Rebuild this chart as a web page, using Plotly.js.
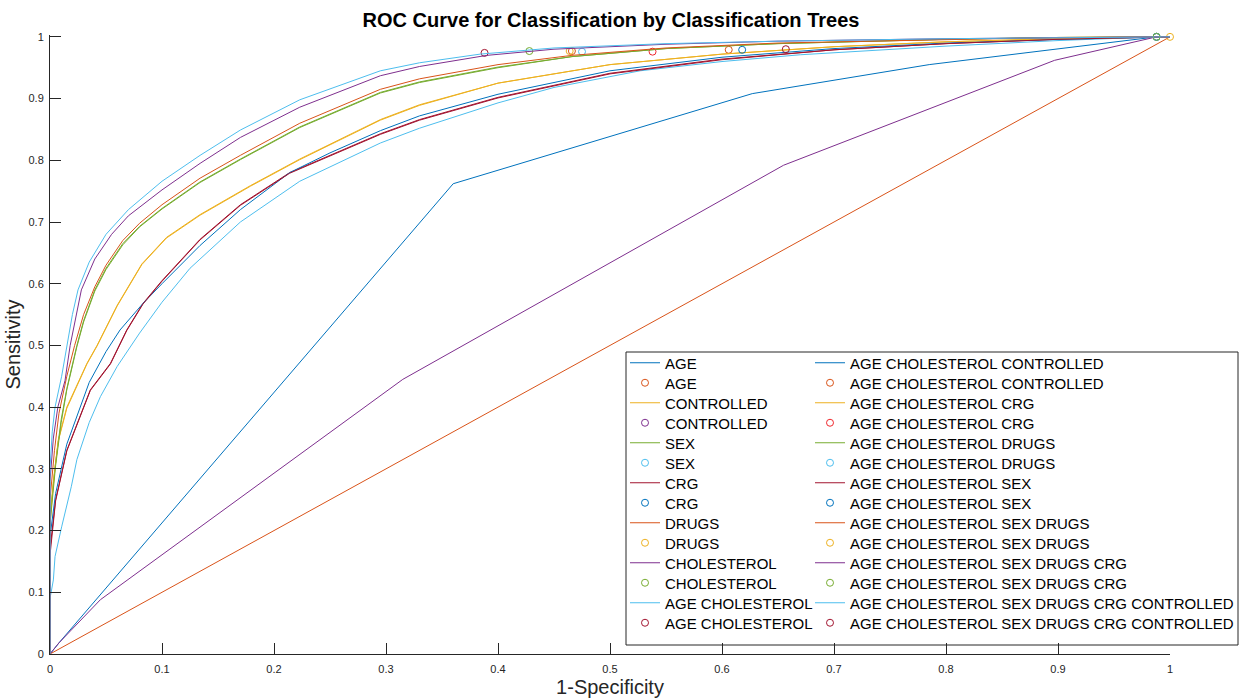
<!DOCTYPE html>
<html><head><meta charset="utf-8">
<script src="https://cdn.plot.ly/plotly-3.0.1.min.js"></script>
<style>html,body{margin:0;padding:0;background:#fff}#chart{width:1239px;height:698px}</style>
</head><body><div id="chart"></div>
<script>
// ---- model names (legend labels) ----
const modelNames = ['AGE','CONTROLLED','SEX','CRG','DRUGS','CHOLESTEROL','AGE CHOLESTEROL',
  'AGE CHOLESTEROL CONTROLLED','AGE CHOLESTEROL CRG','AGE CHOLESTEROL DRUGS','AGE CHOLESTEROL SEX',
  'AGE CHOLESTEROL SEX DRUGS','AGE CHOLESTEROL SEX DRUGS CRG','AGE CHOLESTEROL SEX DRUGS CRG CONTROLLED'];

// ---- ROC curves: false positive rate (1-specificity) and sensitivity ----
const fpr_AGE = [0,0.008,0.36,0.627,0.785,0.988,1];
const tpr_AGE = [0,0.018,0.762,0.908,0.955,1,1];

const fpr_CONTROLLED = [0,0,0.003,0.0074,0.015,0.025,0.033,0.042,0.06,0.082,0.104,0.134,0.179,0.223,0.295,0.33,0.4,0.5,0.6,0.7,0.8,0.9,0.988,1];
const tpr_CONTROLLED = [0,0.22,0.28,0.347,0.40,0.44,0.471,0.50,0.565,0.632,0.675,0.712,0.759,0.802,0.866,0.89,0.925,0.955,0.972,0.984,0.992,0.997,1,1];

const fpr_SEX = [0,0,0.005,0.01,0.015,0.024,0.03,0.04,0.05,0.065,0.08,0.1,0.134,0.17,0.223,0.295,0.33,0.4,0.466,0.55,0.65,0.8,0.9,0.988,1];
const tpr_SEX = [0,0.22,0.31,0.38,0.43,0.50,0.54,0.59,0.625,0.665,0.693,0.722,0.765,0.802,0.854,0.91,0.927,0.951,0.968,0.981,0.989,0.996,0.999,1,1];

const fpr_CRG = [0,0,0.005,0.015,0.036,0.054,0.0685,0.083,0.1,0.134,0.17,0.214,0.25,0.295,0.33,0.4,0.5,0.6,0.7,0.8,0.9,0.988,1];
const tpr_CRG = [0,0.17,0.25,0.33,0.428,0.471,0.525,0.568,0.605,0.672,0.728,0.78,0.808,0.843,0.866,0.902,0.941,0.964,0.979,0.989,0.996,1,1];

const fpr_DRUGS = [0,1];
const tpr_DRUGS = [0,1];

const fpr_CHOLESTEROL = [0,0.008,0.045,0.315,0.655,0.897,0.988,1];
const tpr_CHOLESTEROL = [0,0.018,0.088,0.445,0.792,0.962,1,1];

const fpr_AC = [0,0,0.003,0.0045,0.0104,0.019,0.024,0.035,0.045,0.06,0.08,0.1,0.125,0.17,0.223,0.295,0.33,0.4,0.45,0.527,0.6,0.67,0.8,0.9,0.988,1];
const tpr_AC = [0,0.09,0.12,0.158,0.206,0.271,0.315,0.375,0.417,0.466,0.52,0.57,0.625,0.70,0.766,0.828,0.852,0.893,0.918,0.945,0.96,0.971,0.985,0.994,1,1];

const fpr_ACC = [0,0,0.005,0.015,0.035,0.05,0.0625,0.083,0.1,0.134,0.17,0.214,0.25,0.295,0.33,0.4,0.5,0.6,0.7,0.8,0.9,0.988,1];
const tpr_ACC = [0,0.19,0.26,0.34,0.44,0.49,0.525,0.568,0.60,0.662,0.72,0.78,0.812,0.848,0.872,0.907,0.945,0.967,0.981,0.99,0.996,1,1];

const fpr_ACCRG = [0,0,0.003,0.0074,0.015,0.025,0.033,0.042,0.06,0.082,0.104,0.134,0.179,0.223,0.295,0.33,0.4,0.5,0.6,0.7,0.8,0.9,0.988,1];
const tpr_ACCRG = [0,0.21,0.278,0.345,0.398,0.439,0.47,0.499,0.564,0.631,0.674,0.711,0.758,0.801,0.865,0.889,0.925,0.955,0.972,0.984,0.992,0.997,1,1];

const fpr_ACD = [0,0,0.005,0.01,0.015,0.024,0.03,0.04,0.05,0.065,0.08,0.1,0.134,0.17,0.223,0.295,0.33,0.4,0.466,0.55,0.65,0.8,0.9,0.988,1];
const tpr_ACD = [0,0.21,0.305,0.375,0.428,0.498,0.538,0.588,0.623,0.663,0.692,0.721,0.764,0.801,0.853,0.909,0.926,0.95,0.968,0.981,0.989,0.996,0.999,1,1];

const fpr_ACS = [0,0,0.005,0.015,0.036,0.054,0.0685,0.083,0.1,0.134,0.17,0.214,0.25,0.295,0.33,0.4,0.5,0.6,0.7,0.8,0.9,0.988,1];
const tpr_ACS = [0,0.16,0.248,0.329,0.427,0.47,0.524,0.567,0.604,0.671,0.727,0.779,0.807,0.842,0.865,0.901,0.94,0.963,0.979,0.989,0.996,1,1];

const fpr_ACSD = [0,0,0.004,0.008,0.015,0.022,0.03,0.04,0.05,0.065,0.08,0.1,0.134,0.17,0.223,0.295,0.33,0.4,0.466,0.55,0.65,0.8,0.9,0.988,1];
const tpr_ACSD = [0,0.25,0.33,0.39,0.45,0.50,0.55,0.595,0.63,0.67,0.698,0.728,0.771,0.808,0.86,0.915,0.932,0.955,0.970,0.982,0.990,0.996,0.999,1,1];

const fpr_ACSDC = [0,0,0.003,0.007,0.0134,0.018,0.028,0.04,0.055,0.07,0.1,0.134,0.17,0.223,0.295,0.33,0.39,0.45,0.55,0.65,0.8,0.9,0.988,1];
const tpr_ACSDC = [0,0.28,0.35,0.40,0.443,0.50,0.59,0.64,0.68,0.71,0.752,0.795,0.837,0.886,0.937,0.952,0.970,0.980,0.988,0.993,0.997,0.999,1,1];

const fpr_ACSDCC = [0,0,0.002,0.0045,0.0104,0.0149,0.02,0.025,0.035,0.05,0.07,0.1,0.134,0.17,0.223,0.295,0.33,0.384,0.45,0.55,0.65,0.8,0.9,0.988,1];
const tpr_ACSDCC = [0,0.30,0.36,0.40,0.45,0.50,0.55,0.59,0.635,0.68,0.72,0.766,0.808,0.849,0.898,0.945,0.958,0.972,0.982,0.989,0.993,0.997,0.999,1,1];

// ---- operating points (one per model, same order as modelNames) ----
const opFpr = [0.466,0.988,0.475,0.988,1.0,0.428,0.388,0.606,0.538,0.988,0.618,0.464,0.988,0.657];
const opTpr = [0.977,1.0,0.976,1.0,1.0,0.977,0.974,0.979,0.976,1.0,0.979,0.977,1.0,0.980];

const curveFpr = [fpr_AGE,fpr_CONTROLLED,fpr_SEX,fpr_CRG,fpr_DRUGS,fpr_CHOLESTEROL,fpr_AC,fpr_ACC,fpr_ACCRG,fpr_ACD,fpr_ACS,fpr_ACSD,fpr_ACSDC,fpr_ACSDCC];
const curveTpr = [tpr_AGE,tpr_CONTROLLED,tpr_SEX,tpr_CRG,tpr_DRUGS,tpr_CHOLESTEROL,tpr_AC,tpr_ACC,tpr_ACCRG,tpr_ACD,tpr_ACS,tpr_ACSD,tpr_ACSDC,tpr_ACSDCC];

// ---- styles ----
const palette = ['#0072BD','#D95319','#EDB120','#7E2F8E','#77AC30','#4DBEEE','#A2142F'];
const redMarker = '#F0282D';
const FONT = 'Liberation Sans, Arial, Helvetica, sans-serif';
const AX = '#262626';

const traces = [];
const layoutLegends = {};
// plot area in px: x 50..1170, y 35..654
const pxToPaperX = px => (px - 50) / 1120;
const pxToPaperY = py => (654 - py) / 619;

for (let i = 0; i < modelNames.length; i++) {
  for (let j = 0; j < 2; j++) {
    const idx = 2 * i + j;
    const legName = idx === 0 ? 'legend' : 'legend' + (idx + 1);
    const col = idx < 14 ? 0 : 1;
    const row = idx % 14;
    layoutLegends[legName] = {
      x: pxToPaperX(col === 0 ? 625 : 810), xanchor: 'left',
      y: pxToPaperY(363 + 20 * row), yanchor: 'middle',
      bgcolor: 'rgba(0,0,0,0)', borderwidth: 0,
      font: {family: FONT, size: 15, color: '#000'},
      itemclick: false, itemdoubleclick: false
    };
    let color = palette[idx % 7];
    if (idx === 17) color = redMarker;
    if (j === 0) {
      traces.push({
        type: 'scatter', mode: 'lines', x: curveFpr[i], y: curveTpr[i],
        name: modelNames[i], legend: legName,
        line: {color: color, width: 1}, hoverinfo: 'skip'
      });
    } else {
      traces.push({
        type: 'scatter', mode: 'markers', x: [opFpr[i]], y: [opTpr[i]],
        name: modelNames[i], legend: legName, cliponaxis: false,
        marker: {symbol: 'circle-open', size: 7, color: color, line: {width: 1, color: color}},
        hoverinfo: 'skip'
      });
    }
  }
}

const layout = Object.assign({
  width: 1239, height: 698,
  margin: {l: 50, r: 69, t: 35, b: 44, autoexpand: false},
  paper_bgcolor: '#fff', plot_bgcolor: '#fff',
  title: {text: 'ROC Curve for Classification by Classification Trees',
    font: {family: FONT, size: 20, color: '#000', weight: 'bold'},
    x: pxToPaperX(611), xref: 'paper', xanchor: 'center',
    y: 1 - 20 / 698, yref: 'container', yanchor: 'middle'},
  xaxis: {range: [0, 1], tick0: 0, dtick: 0.1, ticks: 'inside', ticklen: 11, tickwidth: 1,
    tickcolor: AX, showline: true, linecolor: AX, linewidth: 1, showgrid: false, zeroline: false,
    tickfont: {family: FONT, size: 11, color: AX}, ticklabelstandoff: 5, automargin: false,
    title: {text: '1-Specificity', font: {family: FONT, size: 20, color: AX}, standoff: 8}},
  yaxis: {range: [0, 1.003], tick0: 0, dtick: 0.1, ticks: 'inside', ticklen: 11, tickwidth: 1,
    tickcolor: AX, showline: true, linecolor: AX, linewidth: 1, showgrid: false, zeroline: false,
    tickfont: {family: FONT, size: 11, color: AX}, ticklabelstandoff: 3, automargin: false,
    title: {text: 'Sensitivity', font: {family: FONT, size: 20, color: AX}, standoff: 2}},
  shapes: [{type: 'rect', xref: 'paper', yref: 'paper', layer: 'below',
    x0: pxToPaperX(626), x1: pxToPaperX(1238), y0: pxToPaperY(645), y1: pxToPaperY(352),
    line: {color: AX, width: 1}, fillcolor: '#fff'}],
  showlegend: true
}, layoutLegends);

Plotly.newPlot('chart', traces, layout, {staticPlot: true, displayModeBar: false});
</script>
</body></html>
